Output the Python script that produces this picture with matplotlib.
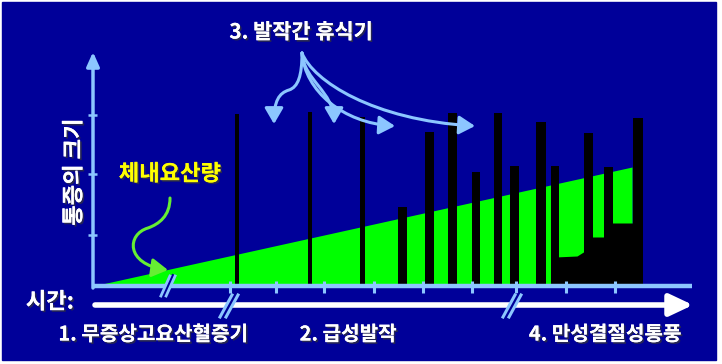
import matplotlib
matplotlib.use("Agg")
import matplotlib.pyplot as plt
import matplotlib.patheffects as pe
from matplotlib.patches import Rectangle, FancyArrowPatch
from matplotlib.path import Path

plt.rcParams['font.family'] = ['Noto Sans CJK KR', 'DejaVu Sans']

# gout attacks: time position, bar width, pain size
attack_t = [144, 217, 269.5, 309.5, 336.5, 359.5, 383, 405, 421.5, 448, 462, 495.5, 515.5, 545]
attack_w = [4.5, 4.5, 5, 9, 9, 9, 8, 8, 9, 10, 8, 9, 9, 10]
attack_h = [172, 174, 169, 79, 154, 173, 114, 173, 120, 164, 120, 153, 119, 168]

# serum uric acid (green wedge)
urate_t = [0, 539]
urate_v = [0, 119]

# chronic baseline pain (black area under the late attacks)
chronic_t = [462, 484, 492, 496, 511, 516, 545]
chronic_v = [29, 30, 35, 49, 49, 63, 63]

x_ticks = [137, 183, 231, 281, 330, 379, 423, 473, 522]
y_ticks = [51, 112, 171]

title_rest = "3. 발작간 휴식기"
y_label = "통증의 크기"
urate_label = "체내요산량"
time_label = "시간:"
stages = ["1. 무증상고요산혈증기", "2. 급성발작", "4. 만성결절성통풍"]
stage_x = [60, 255, 512]

bg = "#000099"
axis_c = "#8CC6FF"
green = "#00FF00"

fig = plt.figure(figsize=(7.22, 3.64), dpi=100)
fig.patch.set_facecolor("white")
ax = fig.add_axes([0, 0, 1, 1])
ax.set_xlim(-93, 629)
ax.set_ylim(-78, 286)
ax.axis("off")
ax.add_patch(Rectangle((2 / 722, 4 / 364), 714 / 722, 358 / 364,
                       transform=ax.transAxes, color=bg, zorder=0))

# uric acid wedge, chronic area, attacks
ax.fill_between(urate_t, 0, urate_v, color=green, lw=0, zorder=1)
ax.fill_between(chronic_t, 0, chronic_v, color="black", lw=0, zorder=2)
ax.bar(attack_t, attack_h, width=attack_w, color="black", zorder=3)

# axes
ax.plot([0, 599], [0, 0], color=axis_c, lw=3.2, solid_capstyle="butt", zorder=5)
ax.annotate("", xy=(0, 234), xytext=(0, -2),
            arrowprops=dict(arrowstyle="-|>,head_length=0.85,head_width=0.38",
                            color=axis_c, lw=2.5, shrinkA=0, shrinkB=0,
                            mutation_scale=10), zorder=5)
ax.vlines(x_ticks, -7, 5, color=axis_c, lw=2.2, zorder=5)
ax.hlines(y_ticks, -5, 4, color=axis_c, lw=1.8, zorder=5)

# axis break on x axis
ax.plot([75 - 5, 75 + 5], [-10, 10], color=bg, lw=2.5, zorder=6)
for dx in (-2.6, 2.6):
    ax.plot([75 + dx - 4.5, 75 + dx + 4.5], [-10, 10], color=axis_c, lw=2, zorder=6)

# time arrow
ax.annotate("", xy=(600, -19), xytext=(2, -19),
            arrowprops=dict(arrowstyle="-|>,head_length=0.7,head_width=0.33",
                            color="white", lw=4, shrinkA=0, shrinkB=0,
                            mutation_scale=20), zorder=5)
for cx in (136, 419):
    ax.plot([cx - 6, cx + 6], [-30, -10], color=bg, lw=3, zorder=6)
    for dx in (-3, 3):
        ax.plot([cx + dx - 6, cx + dx + 6], [-31, -9], color=axis_c, lw=2.2, zorder=7)

# interval arrows
arrow_style = "-|>,head_length=0.6,head_width=0.35"
M, C = Path.MOVETO, Path.CURVE4
rest_paths = [
    [(209, 233), (209, 210), (205, 199), (196, 196), (186, 193), (181, 185), (181, 162)],
    [(209, 233), (211, 205), (241, 195), (241, 162)],
    [(209, 233), (212, 195), (250, 163), (302, 160)],
    [(209, 233), (220, 205), (280, 166), (382, 160)],
]
for verts in rest_paths:
    codes = [M] + [C] * (len(verts) - 1)
    ax.add_patch(FancyArrowPatch(path=Path(verts, codes), arrowstyle=arrow_style,
                                 mutation_scale=16, color=axis_c, lw=2.2, zorder=8))

# uric acid pointer
g_verts = [(77, 88), (77, 70), (66, 62), (55, 58), (34, 52), (32, 22), (75, 16)]
ax.add_patch(FancyArrowPatch(path=Path(g_verts, [M] + [C] * 6), arrowstyle=arrow_style,
                             mutation_scale=16, color="#66EE33", lw=2.2, zorder=8))

shadow = [pe.withSimplePatchShadow(offset=(1.2, -1.2), shadow_rgbFace="#303040", alpha=0.8),
          pe.Normal()]
txt = dict(fontweight="bold", ha="center", va="center", path_effects=shadow, zorder=9)
ax.text(208, 254, title_rest, color="white", fontsize=15, **txt)
ax.text(-19, 114, y_label, color="white", fontsize=16, rotation=90, **txt)
ax.text(77, 112, urate_label, color="#FFFF00", fontsize=16, **txt)
ax.text(-43, -16, time_label, color="white", fontsize=16, **txt)
for sx, s in zip(stage_x, stages):
    ax.text(sx, -48, s, color="white", fontsize=14.5, **txt)

fig.savefig("out.png", dpi=100, facecolor="white")
